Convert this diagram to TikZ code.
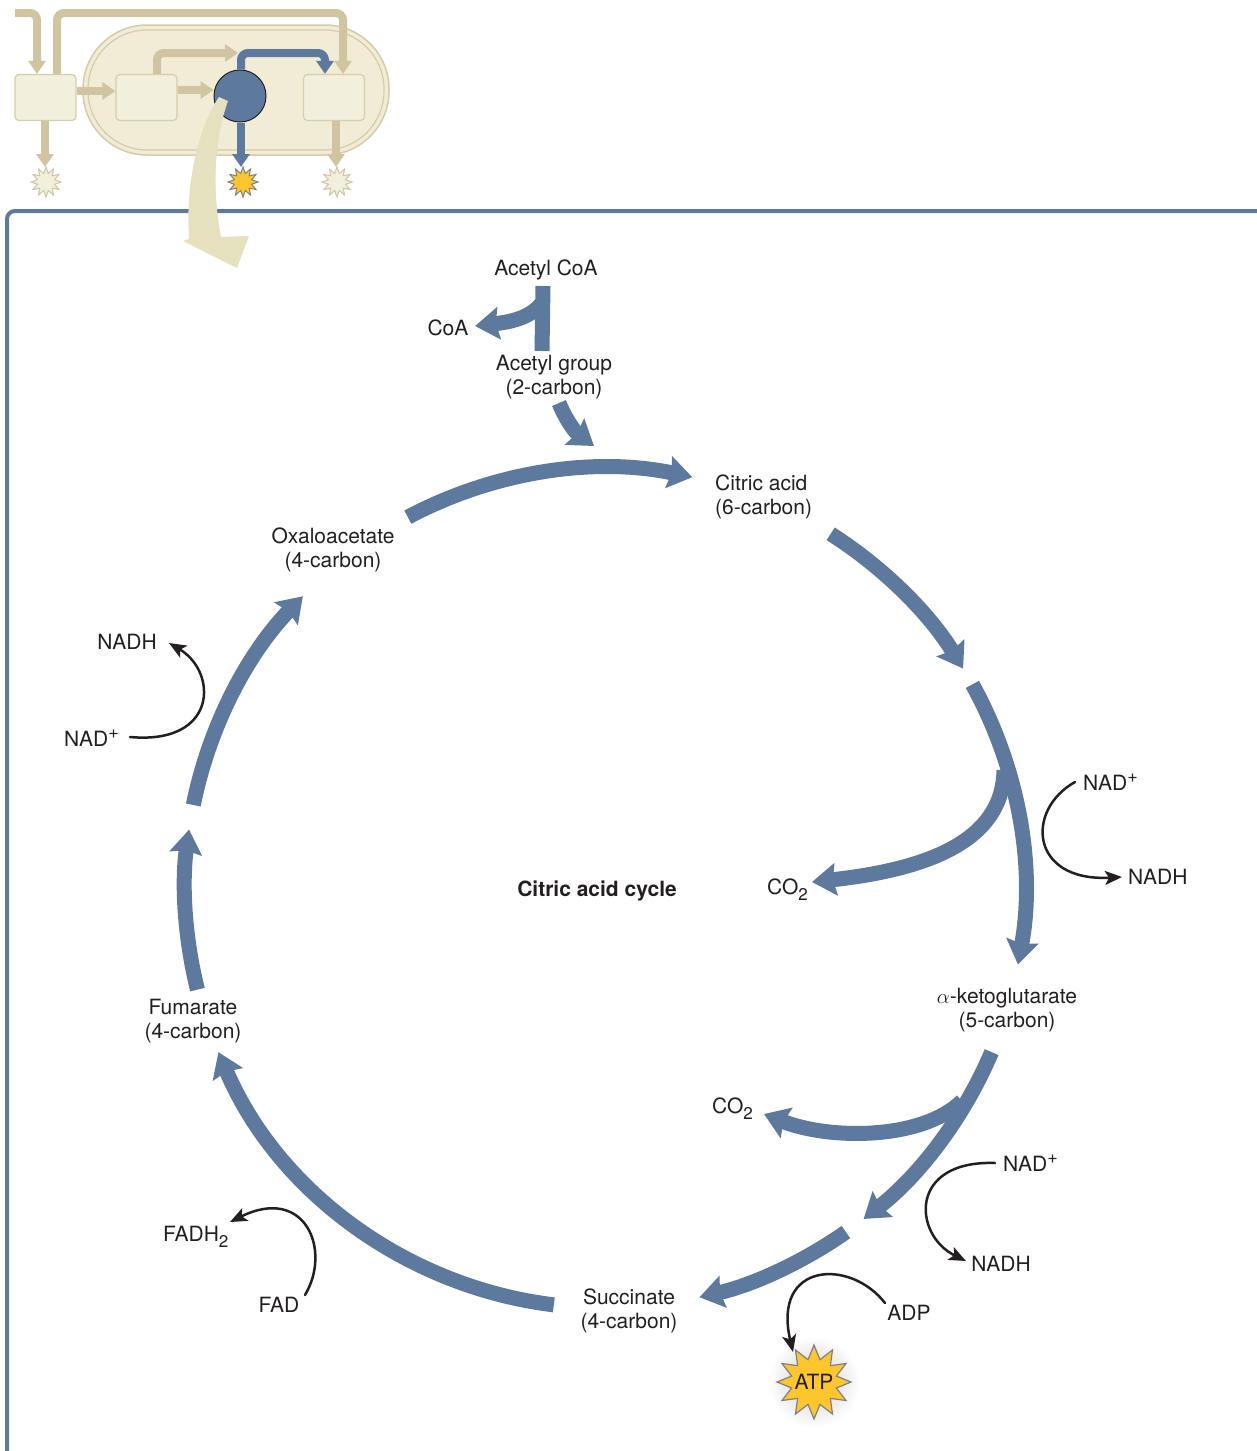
\documentclass[tikz,border=0pt]{standalone}
\usepackage{fontspec}
\setmainfont{TeX Gyre Heros}
\usetikzlibrary{arrows.meta,shapes.geometric}
\definecolor{cycleblue}{RGB}{93,122,158}
\definecolor{ink}{RGB}{35,31,32}
\definecolor{tanline}{RGB}{208,196,161}
\definecolor{cream}{RGB}{243,239,221}
\definecolor{boxline}{RGB}{216,205,170}
\definecolor{ovalfill}{RGB}{241,236,214}
\definecolor{ovalline}{RGB}{214,203,168}
\definecolor{pale}{RGB}{229,224,189}
\definecolor{atpyellow}{RGB}{253,198,45}
\newcommand{\subtwo}{\raisebox{-0.5ex}{\fontsize{17}{17}\selectfont 2}}
\newcommand{\supplus}{\raisebox{0.75ex}{\fontsize{18}{18}\selectfont +}}
\begin{document}
\begin{tikzpicture}[x=1pt,y=1pt,
  lbl/.style={inner sep=0pt, text=ink, font=\fontsize{21}{24}\selectfont},
  one/.style={lbl, text height=15pt, text depth=0pt},
  two/.style={lbl, align=center},
  flow/.style={draw=cycleblue, line width=15pt, -{Stealth[length=24pt,width=32pt,inset=3pt]}},
  stub/.style={draw=cycleblue, line width=15pt},
  swap/.style={draw=ink, line width=2.5pt, line cap=round, -{Stealth[length=17pt,width=14pt,inset=4pt]}},
  tanarrow/.style={draw=tanline, line width=8pt, rounded corners=7pt, -{Triangle[length=13pt,width=17pt]}},
  bluearrow/.style={draw=cycleblue, line width=8pt, rounded corners=7pt, -{Triangle[length=13pt,width=17pt]}},
  stage/.style={draw=boxline, fill=cream, line width=1.2pt, rounded corners=4pt, minimum width=61pt, minimum height=46pt, inner sep=0pt},
  burst/.style={star, star points=12, star point ratio=1.7, minimum size=30pt, inner sep=0pt, line width=1pt},
]
\useasboundingbox (0,0) rectangle (1256,-1451);

% ---------- overview inset ----------
\filldraw[fill=ovalfill, draw=ovalline, line width=1.5pt, rounded corners=64pt] (83,-25) rectangle (389,-155);
\draw[ovalline, line width=1.2pt, rounded corners=59pt] (88,-30) rectangle (384,-150);

\node[stage] (s1) at (45.5,-97.5) {};
\node[stage] (s2) at (146.5,-97.5) {};
\node[stage] (s4) at (334,-97.5) {};
\node[circle, fill=cycleblue, draw=ink, line width=1pt, minimum size=52pt, inner sep=0pt] (s3) at (240,-96) {};

\coordinate (in1) at (15,-13);
\draw[tanarrow] (in1) -- (37,-13) -- (s1.north -| 37,0);
\draw[tanarrow] (s1.north -| 57,0) -- (57,-13) -- (343,-13) -- (s4.north -| 343,0);
\draw[tanarrow, rounded corners=0pt] (s1.east |- 0,-91) -- (s2.west |- 0,-91);
\draw[tanarrow] (s2.north -| 157,0) -- (157,-53) -- (238,-53);
\draw[tanarrow, rounded corners=0pt] (s2.east |- 0,-90) -- (s3.west |- 0,-90);
\draw[bluearrow] (s3.north -| 241,0) -- (241,-53) -- (325,-53) -- (s4.north -| 325,0);

\node[burst, fill=cream, draw=tanline] (b1) at (46,-182) {};
\node[burst, fill=atpyellow, draw=gray] (b3) at (243,-182) {};
\node[burst, fill=cream, draw=tanline] (b4) at (337,-182) {};
\draw[tanarrow, rounded corners=0pt] (s1.south -| 45,0) -- (45,-167);
\draw[bluearrow, rounded corners=0pt] (s3.south -| 241,0) -- (241,-167);
\draw[tanarrow, rounded corners=0pt] (s4.south -| 336,0) -- (336,-167);

% ---------- panel frame ----------
\draw[cycleblue, line width=4pt, rounded corners=8pt] (7,-1455) -- (7,-211) -- (1260,-211);

% zoom arrow from the highlighted stage into the panel
\fill[pale] (219,-97) .. controls (200,-125) and (185,-180) .. (189,-239)
  -- (183,-241) -- (237,-268) -- (249,-236) -- (221,-237)
  .. controls (212,-190) and (214,-140) .. (228,-101) -- cycle;

% ---------- citric acid cycle ----------
\coordinate (C) at (605,-888);
\draw[flow] ([shift={(C)}]118:420) arc[start angle=118, end angle=78, radius=420];
\draw[flow] ([shift={(C)}]57.5:420) arc[start angle=57.5, end angle=31.5, radius=420];
\draw[flow] ([shift={(C)}]29:420) arc[start angle=29, end angle=-10.5, radius=420];
\draw[flow] ([shift={(C)}]-23:420) arc[start angle=-23, end angle=-52, radius=420];
\draw[flow] ([shift={(C)}]-55:420) arc[start angle=-55, end angle=-77, radius=420];
\draw[flow] ([shift={(C)}]-97:420) arc[start angle=-97, end angle=-157, radius=420];
\draw[flow] ([shift={(C)}]194:420) arc[start angle=194, end angle=172, radius=420];
\draw[flow] ([shift={(C)}]168.6:420) arc[start angle=168.6, end angle=136, radius=420];

% CO2 branches
\coordinate (br1) at (1004,-770);
\coordinate (br2) at (962,-1101);
\draw[flow] (br1) .. controls (1003,-835) and (940,-868) .. (812,-882);
\draw[flow] (br2) .. controls (922,-1140) and (830,-1140) .. (764,-1114);

% entry of acetyl CoA
\coordinate (ac1) at (543,-286);
\coordinate (ac2) at (542,-351);
\draw[stub] (ac1) -- (ac2);
\draw[flow] (541,-304) .. controls (530,-318) and (510,-322) .. (475,-326);
\coordinate (ag1) at (559,-403);
\coordinate (ag2) at (594,-446);
\draw[flow] (ag1) .. controls (566,-420) and (575,-432) .. (ag2);

% ---------- labels ----------
\node[one] (acoa) at (546,-268) {Acetyl CoA};
\node[one] (coa) at (448,-328) {CoA};
\node[two] (agrp) at (554,-377) {Acetyl group\\(2-carbon)};
\node[two, align=left, anchor=west] (cit) at (715,-497) {Citric acid\\(6-carbon)};
\node[two] (oxa) at (333,-550) {Oxaloacetate\\(4-carbon)};
\node[one, font=\fontsize{21}{24}\selectfont\bfseries] (title) at (597,-889) {Citric acid cycle};
\node[one, anchor=west] (co2a) at (767,-887) {CO\subtwo};
\node[two] (akg) at (1007,-1010) {$\alpha$-ketoglutarate\\(5-carbon)};
\node[one, anchor=west] (co2b) at (712,-1106) {CO\subtwo};
\node[two] (fum) at (193,-1021) {Fumarate\\(4-carbon)};
\node[two] (suc) at (629,-1311) {Succinate\\(4-carbon)};

\node[one] (nadh1) at (127,-642) {NADH};
\node[one, anchor=west] (nad1) at (64,-739) {NAD\supplus};
\node[one, anchor=west] (nad2) at (1083,-783) {NAD\supplus};
\node[one, anchor=west] (nadh2) at (1128,-877) {NADH};
\node[one, anchor=west] (nad3) at (1003,-1164) {NAD\supplus};
\node[one] (nadh3) at (1001,-1264) {NADH};
\node[one, anchor=west] (fadh) at (163,-1234) {FADH\subtwo};
\node[one] (fad) at (279,-1305) {FAD};
\node[one] (adp) at (909,-1313) {ADP};

% ATP burst
\shade[inner color=black!20, outer color=white] (814,-1382) circle (46);
\node[star, star points=12, star point ratio=1.6, minimum size=74pt, inner sep=0pt,
      fill=atpyellow, draw=gray, line width=1.2pt] (atpstar) at (814,-1382) {};
\node[one] (atp) at (814,-1382) {ATP};

% ---------- cofactor exchanges ----------
\coordinate (x1a) at (130,-737);
\coordinate (x1b) at (169,-643);
\draw[swap] (x1a) .. controls (218,-745) and (218,-672) .. (x1b);
\coordinate (x2a) at (1075,-782);
\coordinate (x2b) at (1122,-877);
\draw[swap] (x2a) .. controls (1025,-810) and (1030,-882) .. (x2b);
\coordinate (x3a) at (995,-1163);
\coordinate (x3b) at (966,-1261);
\draw[swap] (x3a) .. controls (908,-1160) and (913,-1235) .. (x3b);
\coordinate (x4a) at (885,-1303);
\coordinate (x4b) at (793,-1352);
\draw[swap] (x4a) .. controls (850,-1258) and (772,-1262) .. (x4b);
\coordinate (x5a) at (305,-1295);
\coordinate (x5b) at (230,-1222);
\draw[swap] (x5a) .. controls (332,-1250) and (305,-1185) .. (x5b);
\end{tikzpicture}
\end{document}
